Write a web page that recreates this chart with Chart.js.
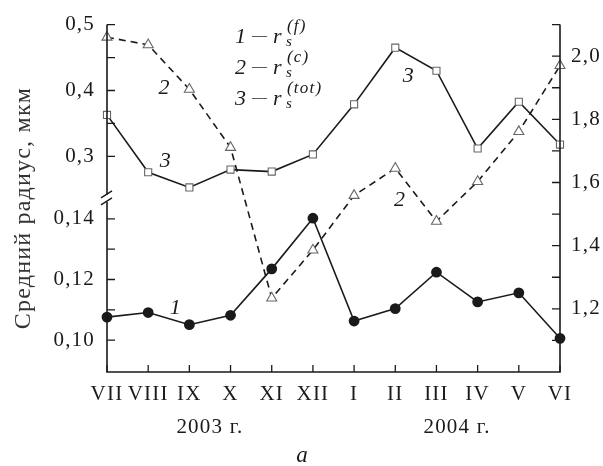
<!DOCTYPE html>
<html>
<head>
<meta charset="utf-8">
<script src="https://cdn.jsdelivr.net/npm/chart.js@4.4.0/dist/chart.umd.min.js"></script>
<style>
  body { margin: 0; background: #fff; }
  #wrap { width: 603px; height: 466px; }
</style>
</head>
<body>
<div id="wrap"><canvas id="radiusChart" width="603" height="466"></canvas></div>
<script>
// Data
const months = ['VII', 'VIII', 'IX', 'X', 'XI', 'XII', 'I', 'II', 'III', 'IV', 'V', 'VI'];
const years = ['2003 г.', '2004 г.'];
const rFine = [0.1076, 0.1091, 0.1051, 0.1082, 0.1235, 0.1402, 0.1063, 0.1104, 0.1224, 0.1126, 0.1156, 0.1006];
const rCoarse = [2.06, 2.036, 1.895, 1.711, 1.234, 1.386, 1.559, 1.645, 1.477, 1.603, 1.761, 1.97];
const rTotal = [0.363, 0.276, 0.253, 0.280, 0.277, 0.303, 0.379, 0.465, 0.430, 0.312, 0.383, 0.318];

// Tick values
const upperTicks = [0.30, 0.35, 0.40, 0.45, 0.50];
const upperLabels = [0.3, 0.4, 0.5];
const lowerTicks = [0.10, 0.11, 0.12, 0.13, 0.14];
const lowerLabels = [0.10, 0.12, 0.14];
const rightTicks = [1.1, 1.2, 1.3, 1.4, 1.5, 1.6, 1.7, 1.8, 1.9, 2.0, 2.1];
const rightLabels = [1.2, 1.4, 1.6, 1.8, 2.0];

const serif = "'Liberation Serif', 'Times New Roman', serif";
const ink = '#1a1a1a';
const spacing = '1.2px';

function fmt(list, digits) {
    return function(value) {
        const hit = list.some(v => Math.abs(v - value) < 1e-6);
        return hit ? value.toFixed(digits).replace('.', ',') : '';
    };
}
function setTicks(list) {
    return function(scale) {
        scale.ticks = list.map(v => ({ value: v }));
    };
}

// Curve numbers placed on the plot: [text, axis, category position, value]
const curveTags = [
    ['2', 'yR', 1.4, 1.90],
    ['3', 'yUp', 1.43, 0.293],
    ['1', 'yLow', 1.67, 0.1105],
    ['3', 'yUp', 7.33, 0.421],
    ['2', 'yR', 7.12, 1.543]
];

const legendRows = [
    ['1', '(f)'],
    ['2', '(c)'],
    ['3', '(tot)']
];

// the printed figure uses a wider serif, so space the letters a little
const spacingPlugin = {
    id: 'spacingPlugin',
    beforeUpdate(chart) { chart.ctx.letterSpacing = spacing; },
    beforeDraw(chart) { chart.ctx.letterSpacing = spacing; }
};

const axesPlugin = {
    id: 'axesPlugin',
    afterDatasetsDraw(chart) {
        const ctx = chart.ctx;
        const a = chart.chartArea;
        const x = chart.scales.x, yUp = chart.scales.yUp, yLow = chart.scales.yLow, yR = chart.scales.yR;
        const brk = yLow.top;

        ctx.save();
        ctx.letterSpacing = spacing;
        ctx.strokeStyle = ink;
        ctx.lineWidth = 1.6;
        ctx.beginPath();
        // left axis with break
        ctx.moveTo(a.left, a.top);
        ctx.lineTo(a.left, brk - 4);
        ctx.moveTo(a.left, brk + 3);
        ctx.lineTo(a.left, a.bottom);
        // bottom + right
        ctx.lineTo(a.right, a.bottom);
        ctx.lineTo(a.right, a.top);
        ctx.stroke();

        ctx.lineWidth = 1.3;
        ctx.beginPath();
        upperTicks.forEach(v => { const p = yUp.getPixelForValue(v); ctx.moveTo(a.left, p); ctx.lineTo(a.left + 8, p); });
        lowerTicks.forEach(v => { const p = yLow.getPixelForValue(v); ctx.moveTo(a.left, p); ctx.lineTo(a.left + 8, p); });
        rightTicks.forEach(v => { const p = yR.getPixelForValue(v); ctx.moveTo(a.right, p); ctx.lineTo(a.right - 8, p); });
        months.forEach((m, i) => { const p = x.getPixelForValue(i); ctx.moveTo(p, a.bottom); ctx.lineTo(p, a.bottom - 7); });
        ctx.stroke();

        // break marks
        ctx.lineWidth = 1.4;
        ctx.beginPath();
        ctx.moveTo(a.left - 6, brk - 1); ctx.lineTo(a.left + 5, brk - 8);
        ctx.moveTo(a.left - 6, brk + 6); ctx.lineTo(a.left + 5, brk - 1);
        ctx.stroke();

        ctx.fillStyle = ink;
        // curve numbers
        ctx.font = 'italic 22px ' + serif;
        ctx.textAlign = 'center';
        ctx.textBaseline = 'middle';
        curveTags.forEach(t => {
            ctx.fillText(t[0], x.getPixelForValue(t[2]), chart.scales[t[1]].getPixelForValue(t[3]));
        });

        // legend
        ctx.textAlign = 'left';
        ctx.textBaseline = 'alphabetic';
        legendRows.forEach((row, i) => {
            const lx = 235, ly = 43 + i * 31;
            ctx.font = 'italic 22px ' + serif;
            ctx.fillText(row[0], lx, ly);
            ctx.font = '15px ' + serif;
            ctx.fillText('\u2014', lx + 17, ly - 3);
            ctx.font = 'italic 22px ' + serif;
            ctx.fillText('r', lx + 38, ly);
            ctx.font = 'italic 15px ' + serif;
            ctx.fillText('s', lx + 51, ly + 3);
            ctx.font = 'italic 17px ' + serif;
            ctx.fillText(row[1], lx + 52, ly - 12);
        });

        // year labels and caption
        ctx.textAlign = 'center';
        ctx.textBaseline = 'middle';
        ctx.font = '21px ' + serif;
        ctx.fillText(years[0], x.getPixelForValue(2.5), 427);
        ctx.fillText(years[1], x.getPixelForValue(8.5), 427);
        ctx.font = 'italic 23px ' + serif;
        ctx.fillText('а', (a.left + a.right) / 2 - 31, 456);

        // axis title
        ctx.translate(24, 208);
        ctx.rotate(-Math.PI / 2);
        ctx.font = '24px ' + serif;
        ctx.fillStyle = '#333';
        ctx.fillText('Средний радиус, мкм', 0, 0);
        ctx.restore();
    }
};

const tickFont = { family: serif, size: 21 };

const ctx = document.getElementById('radiusChart').getContext('2d');
const radiusChart = new Chart(ctx, {
    type: 'line',
    data: {
        labels: months,
        datasets: [{
            label: 'r_s(f)',
            data: rFine,
            yAxisID: 'yLow',
            borderColor: ink,
            borderWidth: 1.6,
            pointStyle: 'circle',
            pointRadius: 4.6,
            pointBackgroundColor: ink,
            pointBorderColor: ink,
            tension: 0,
            clip: false
        }, {
            label: 'r_s(c)',
            data: rCoarse,
            yAxisID: 'yR',
            borderColor: ink,
            borderWidth: 1.6,
            borderDash: [7, 5],
            pointStyle: 'triangle',
            pointRadius: 5.8,
            pointBackgroundColor: '#fff',
            pointBorderColor: '#666',
            pointBorderWidth: 1.1,
            tension: 0,
            clip: false
        }, {
            label: 'r_s(tot)',
            data: rTotal,
            yAxisID: 'yUp',
            borderColor: ink,
            borderWidth: 1.6,
            pointStyle: 'rect',
            pointRadius: 5,
            pointBackgroundColor: '#fff',
            pointBorderColor: '#666',
            pointBorderWidth: 1.1,
            tension: 0,
            clip: false
        }]
    },
    options: {
        responsive: false,
        animation: false,
        events: [],
        layout: { padding: { top: 23, left: 0, right: 0, bottom: 0 } },
        plugins: { legend: { display: false }, tooltip: { enabled: false } },
        scales: {
            x: {
                type: 'category',
                offset: false,
                grid: { display: false, drawTicks: false },
                border: { display: false },
                ticks: { font: tickFont, color: ink, padding: 10, maxRotation: 0, autoSkip: false },
                afterFit: s => { s.height = 94; }
            },
            yLow: {
                position: 'left',
                stack: 'left',
                stackWeight: 174,
                weight: 0,
                min: 0.0895,
                max: 0.1466,
                grid: { display: false, drawTicks: false },
                border: { display: false },
                afterBuildTicks: setTicks(lowerTicks),
                ticks: { font: tickFont, color: ink, padding: 12, callback: fmt(lowerLabels, 2) },
                afterFit: s => { s.width = 107; }
            },
            yUp: {
                position: 'left',
                stack: 'left',
                stackWeight: 175,
                weight: 1,
                min: 0.2357,
                max: 0.5,
                grid: { display: false, drawTicks: false },
                border: { display: false },
                afterBuildTicks: setTicks(upperTicks),
                ticks: { font: tickFont, color: ink, padding: 12, callback: fmt(upperLabels, 1) },
                afterFit: s => { s.width = 107; }
            },
            yR: {
                position: 'right',
                min: 1.0,
                max: 2.1,
                grid: { display: false, drawTicks: false },
                border: { display: false },
                afterBuildTicks: setTicks(rightTicks),
                ticks: { font: tickFont, color: ink, padding: 11, callback: fmt(rightLabels, 1) },
                afterFit: s => { s.width = 43; }
            }
        }
    },
    plugins: [spacingPlugin, axesPlugin]
});
</script>
</body>
</html>
